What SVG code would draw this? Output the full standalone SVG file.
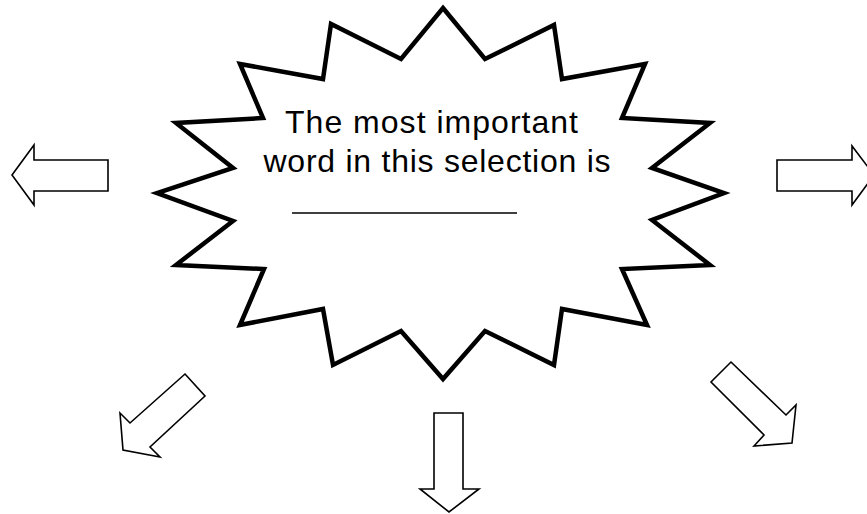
<svg xmlns="http://www.w3.org/2000/svg" width="867" height="514" viewBox="0 0 867 514">
<style>
.burst{fill:#fff;stroke:#000;stroke-width:4.5;stroke-linejoin:miter;stroke-miterlimit:10}
.arrow{fill:#fff;stroke:#000;stroke-width:1.6;stroke-linejoin:miter;stroke-miterlimit:10}
.label{font-family:"Liberation Sans",Arial,sans-serif;font-size:32px;fill:#000;text-anchor:middle}
</style>
<rect width="867" height="514" fill="#fff"/>
<g id="burst">
<polygon class="burst" points="443,8 485,59 554,25 562,79 645,64 622,118 710,123 652,168 724,193 652,220 710,265 622,269 647,325 562,309 554,365 485,331 443,379 401,331 333,365 323,309 240,325 264,269 176,265 233,221 157,193 233,168 176,123 263,118 240,64 323,79 331,24 401,59"/>
<text class="label" x="431.5" y="133" textLength="293" lengthAdjust="spacing">The most important</text>
<text class="label" x="437" y="172" textLength="347" lengthAdjust="spacing">word in this selection is</text>
<line x1="292" y1="213" x2="517" y2="213" stroke="#000" stroke-width="1.3"/>
</g>
<g id="connectors">
<polygon id="arrow-left" class="arrow" points="12,175 34,145 34,160 108,160 108,191 34,191 34,205"/>
<polygon id="arrow-right" class="arrow" points="777,160 852,160 852,146 874,175 852,205 852,191 777,191"/>
<polygon id="arrow-downleft" class="arrow" points="185,374 205,396 150,447 160,457 123,450 120,413 130,423"/>
<polygon id="arrow-down" class="arrow" points="434,413 463,413 463,489 479,489 449,512 420,489 434,489"/>
<polygon id="arrow-downright" class="arrow" points="731,362 786,415 796,405 792,443 754,446 764,435 711,382"/>
</g>
</svg>
